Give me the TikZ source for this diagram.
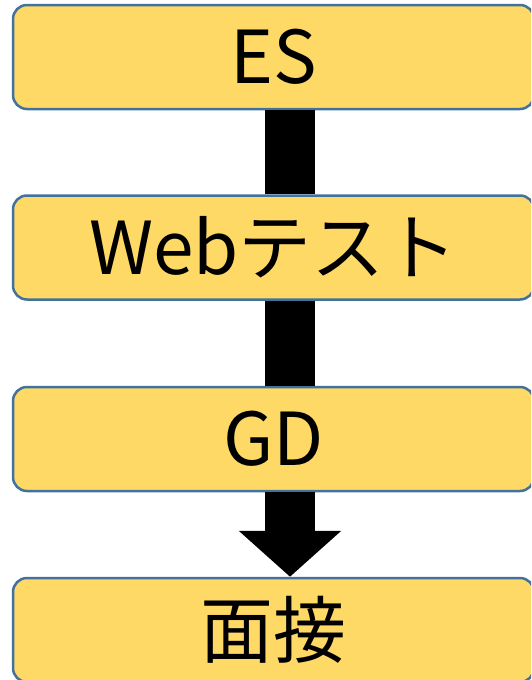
\documentclass[tikz,border=0pt]{standalone}
\usepackage{fontspec}
\setmainfont{Noto Sans CJK JP}
\usetikzlibrary{arrows.meta}

\definecolor{stagefill}{HTML}{FFD966}
\definecolor{stageline}{HTML}{41719C}

\begin{document}
\begin{tikzpicture}[x=1pt, y=1pt,
  stage/.style={draw=stageline, fill=stagefill, line width=2.5pt,
    rounded corners=14pt, minimum width=521pt, minimum height=104pt,
    inner sep=0pt, font=\fontsize{73}{73}\selectfont},
  flow/.style={line width=50pt, black}]

%% Frame with the same margins
\useasboundingbox (0,0) rectangle (531,-680);
\clip (0,0) rectangle (531,-680);

%% Stages
\node[stage] (es) at (273.5,-57) {ES};
\node[stage] (web) at (273.5,-247.5) {Webテスト};
\node[stage] (gd) at (273.5,-439) {GD};
\node[stage] (mensetsu) at (273.5,-630) {面接};

%% Flow bars
\draw[flow] ([xshift=16.5pt]es.south) -- ([xshift=16.5pt]web.north);
\draw[flow] ([xshift=16.5pt]web.south) -- ([xshift=16.5pt]gd.north);
\draw[flow, -{Triangle[width=100pt, length=46pt]}] ([xshift=16.5pt]gd.south) -- ([xshift=16.5pt]mensetsu.north);

\end{tikzpicture}
\end{document}
